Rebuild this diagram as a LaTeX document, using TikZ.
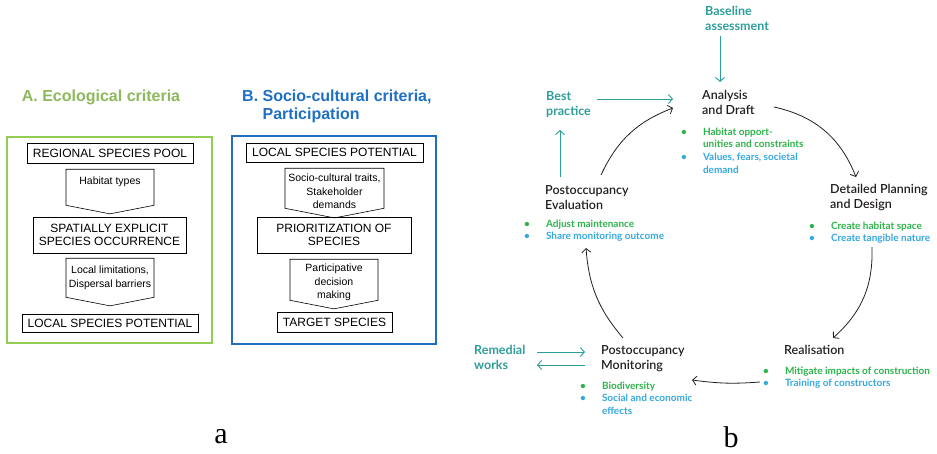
\documentclass[tikz,border=0pt]{standalone}
\usepackage{fontspec}
\setmainfont{Liberation Sans}
\newfontfamily\cyclefont{Lato}
\newfontfamily\cycheadfont{Lato Semibold}
\newfontfamily\panelfont{Liberation Serif}
\usetikzlibrary{shapes.symbols,arrows.meta}

\definecolor{critgreen}{HTML}{8DB85B}
\definecolor{framegreen}{HTML}{92CC55}
\definecolor{critblue}{HTML}{1F6FC3}
\definecolor{cycteal}{HTML}{2E9E9B}
\definecolor{bulgreen}{HTML}{2DB34A}
\definecolor{bulblue}{HTML}{35A8E0}
\definecolor{cycblack}{HTML}{231F20}

% bullet rows for the cycle lists
\newcommand\gitem[1]{\textcolor{bulgreen}{\textbullet}&\textcolor{bulgreen}{#1}\\}
\newcommand\bitem[1]{\textcolor{bulblue}{\textbullet}&\textcolor{bulblue}{#1}\\}
\newcommand\gcont[1]{&\textcolor{bulgreen}{#1}\\}
\newcommand\bcont[1]{&\textcolor{bulblue}{#1}\\}

\tikzset{
  crittitle/.style={font=\fontsize{16}{18}\selectfont\bfseries, inner sep=0pt, align=left},
  critframe/.style={draw, line width=2.6pt, inner sep=0pt},
  critbox/.style={draw, line width=0.6pt, inner sep=0pt, align=center,
    font=\fontsize{12}{13.5}\selectfont},
  critstep/.style={draw, line width=0.6pt, shape=signal, signal to=south,
    signal pointer angle=158, inner sep=0pt, font=\fontsize{10.5}{13.5}\selectfont},
  cychead/.style={font=\cycheadfont\fontsize{12.5}{15.5}\selectfont, text=cycblack,
    inner sep=0pt, align=left, anchor=north west},
  cycside/.style={cychead, font=\cyclefont\bfseries\fontsize{12.5}{15.5}\selectfont, text=cycteal},
  cyclist/.style={font=\cyclefont\bfseries\fontsize{10}{12.8}\selectfont,
    inner sep=0pt, anchor=north west},
  cycarrow/.style={draw=cycblack, line width=0.8pt, -{Straight Barb[length=4pt,width=9pt]}},
  sidearrow/.style={draw=cycteal, line width=0.9pt, -{Straight Barb[length=4pt,width=9pt]}},
}

\begin{document}
\begin{tikzpicture}[x=1pt, y=-1pt]
\useasboundingbox (0,0) rectangle (937,454);

% ---- panel a, column A
\node[crittitle, text=critgreen] (atitle) at (101,97) {A. Ecological criteria};
\node[critframe, draw=framegreen, minimum width=205pt, minimum height=206pt] (aframe) at (109.5,240) {};
\node[critbox, minimum width=166pt, minimum height=20pt] (apool) at (110,153) {REGIONAL SPECIES POOL};
\node[critstep, minimum width=88pt, anchor=north] (ahab) at (110,169)
  {\parbox[t][36pt][t]{84pt}{\centering\vspace{8pt}Habitat types}};
\node[critbox, minimum width=153pt, minimum height=36pt] (aoccur) at (109.5,235) {SPATIALLY EXPLICIT\\SPECIES OCCURRENCE};
\node[critstep, minimum width=88pt, anchor=north] (alim) at (110,258)
  {\parbox[t][39pt][t]{86pt}{\centering\vspace{8pt}Local limitations,\\Dispersal barriers}};
\node[critbox, minimum width=176pt, minimum height=18pt] (apot) at (110,323) {LOCAL SPECIES POTENTIAL};

% ---- panel a, column B
\node[crittitle, text=critblue, anchor=west] (btitle) at (242,106) {B. Socio-cultural criteria,\\\hphantom{B. }Participation};
\node[critframe, draw=critblue, minimum width=204pt, minimum height=208pt] (bframe) at (334,240) {};
\node[critbox, minimum width=177pt, minimum height=19pt] (bpot) at (334.5,152.5) {LOCAL SPECIES POTENTIAL};
\node[critstep, minimum width=99pt, anchor=north] (bsoc) at (334.5,168)
  {\parbox[t][40pt][t]{97pt}{\centering\vspace{6pt}Socio-cultural traits,\\Stakeholder\\demands}};
\node[critbox, minimum width=154pt, minimum height=36pt] (bprior) at (334,235) {PRIORITIZATION OF\\SPECIES};
\node[critstep, minimum width=88pt, anchor=north] (bpart) at (334,259)
  {\parbox[t][41pt][t]{86pt}{\centering\vspace{5pt}Participative\\decision\\making}};
\node[critbox, minimum width=115pt, minimum height=20pt] (btarget) at (334.5,322) {TARGET SPECIES};

\node[font=\panelfont\fontsize{30}{30}\selectfont, inner sep=0pt] (alabel) at (221,437) {a};

% ---- panel b, the cycle
\node[cycside] (base) at (705,6) {Baseline\\assessment};
\node[cycside] (best) at (546,91) {Best\\practice};
\node[cycside] (rem) at (474,345) {Remedial\\works};

\node[cychead] (anal) at (702,90) {Analysis\\and Draft};
\node[cychead] (det) at (830,184) {Detailed Planning\\and Design};
\node[cychead] (real) at (784,345) {Realisation};
\node[cychead] (mon) at (601,345) {Postoccupancy\\Monitoring};
\node[cychead] (eval) at (545,185) {Postoccupancy\\Evaluation};

\node[cyclist] (anallist) at (681,126) {\begin{tabular}{@{}l@{\hspace{16pt}}l@{}}
  \gitem{Habitat opport-}\gcont{unities and constraints}\bitem{Values, fears, societal}\bcont{demand}\end{tabular}};
\node[cyclist] (detlist) at (809,220) {\begin{tabular}{@{}l@{\hspace{16pt}}l@{}}
  \gitem{Create habitat space}\bitem{Create tangible nature}\end{tabular}};
\node[cyclist] (reallist) at (763,365) {\begin{tabular}{@{}l@{\hspace{16pt}}l@{}}
  \gitem{Mitigate impacts of construction}\bitem{Training of constructors}\end{tabular}};
\node[cyclist] (monlist) at (580,380) {\begin{tabular}{@{}l@{\hspace{16pt}}l@{}}
  \gitem{Biodiversity}\bitem{Social and economic}\bcont{effects}\end{tabular}};
\node[cyclist] (evallist) at (524,218) {\begin{tabular}{@{}l@{\hspace{16pt}}l@{}}
  \gitem{Adjust maintenance}\bitem{Share monitoring outcome}\end{tabular}};

\node[font=\panelfont\fontsize{30}{30}\selectfont, inner sep=0pt] (blabel) at (731,437) {b};

% side inputs
\draw[sidearrow] ([shift={(15,5)}]base.south west) -- ([shift={(18,-8)}]anal.north west);
\draw[sidearrow] ([shift={(51,8)}]best.north west) -- ([shift={(-29,9)}]anal.north west);
\draw[sidearrow] ([shift={(15,-8)}]eval.north west) -- ([shift={(14,39)}]best.north west);
\draw[sidearrow] ([shift={(63,7)}]rem.north west) -- ([shift={(-16,7)}]mon.north west);
\draw[sidearrow] ([shift={(-16,20)}]mon.north west) -- ([shift={(63,20)}]rem.north west);

% cycle
\draw[cycarrow] ([shift={(72,17)}]anal.north west) to[bend left=28] ([shift={(26,-7)}]det.north west);
\draw[cycarrow] ([shift={(63,27)}]detlist.north west) to[bend left=25] ([shift={(49,-7)}]real.north west);
\draw[cycarrow] ([shift={(-3,17)}]reallist.north west) to[bend left=6] ([shift={(91,35)}]mon.north west);
\draw[cycarrow] ([shift={(22,-7)}]mon.north west) to[bend left=18] ([shift={(62,30)}]evallist.north west);
\draw[cycarrow] ([shift={(56,-10)}]eval.north west) to[bend left=22] ([shift={(-29,18)}]anal.north west);
\end{tikzpicture}
\end{document}
